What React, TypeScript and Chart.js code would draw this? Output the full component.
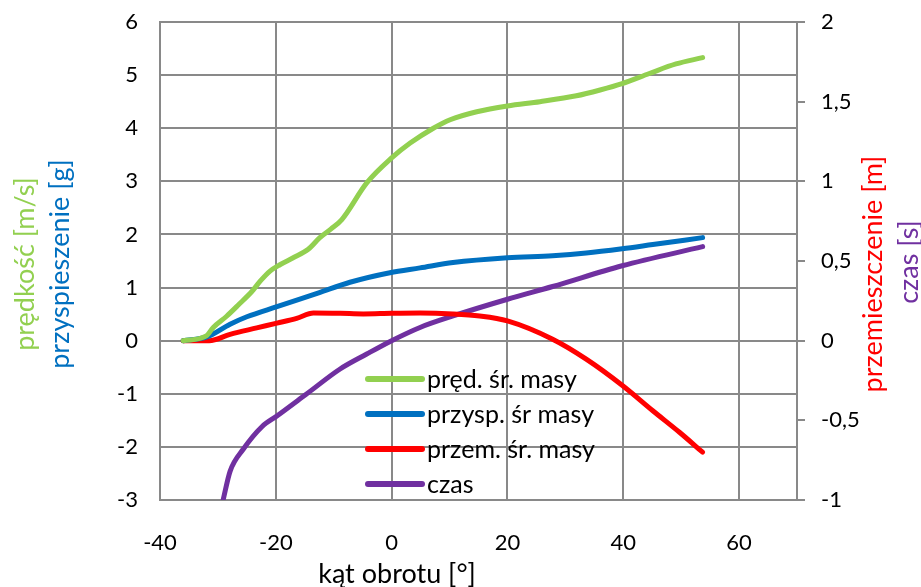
import React, { useEffect, useRef } from 'react';
import { Chart, registerables } from 'chart.js';

Chart.register(...registerables);

// ---- data ----
const velAngle = [-36, -32, -30.8, -28.5, -26.4, -24.1, -22.7, -21, -19.3, -17, -14.4, -12.4, -10.5, -8.6, -4.3, 0, 3.2, 7.2, 10.1, 14.7, 20, 25.6, 31.9, 36, 39.8, 44.5, 49.1, 53.7];
const velValue = [0, 0.09, 0.25, 0.46, 0.68, 0.93, 1.12, 1.31, 1.43, 1.56, 1.72, 1.94, 2.1, 2.28, 2.97, 3.44, 3.72, 4.0, 4.16, 4.31, 4.42, 4.5, 4.61, 4.72, 4.84, 5.03, 5.21, 5.33];

const accAngle = [-36, -31.9, -27.9, -25, -19.8, -12.6, -7.2, -0.3, 4.9, 10.6, 20, 27.8, 33.6, 39.8, 45.1, 53.7];
const accValue = [0, 0.07, 0.31, 0.45, 0.64, 0.9, 1.1, 1.28, 1.37, 1.47, 1.56, 1.6, 1.65, 1.73, 1.81, 1.94];

const dispAngle = [-36, -31.5, -27.9, -23.3, -19.8, -16.4, -13.5, -8.9, -4.9, 0, 4.9, 10.6, 15.2, 20, 27.8, 33.6, 39.8, 45.1, 49.7, 53.7];
const dispValue = [0, 0, 0.04, 0.08, 0.11, 0.14, 0.174, 0.172, 0.168, 0.172, 0.174, 0.168, 0.155, 0.124, 0.009, -0.116, -0.28, -0.44, -0.575, -0.7];

const timeAngle = [-29.1, -27.9, -25.6, -22.4, -19.7, -14.7, -8.9, -4.3, 0, 4.9, 10.6, 20, 27.8, 39.8, 53.7];
const timeValue = [-1.0, -0.82, -0.68, -0.54, -0.47, -0.335, -0.178, -0.084, 0, 0.083, 0.155, 0.26, 0.34, 0.47, 0.59];

const seriesLabels = ['pręd. śr. masy', 'przysp. śr masy', 'przem. śr. masy', 'czas'];
const seriesColors = ['#92D050', '#0070C0', '#FF0000', '#7030A0'];

const xTickValues = [-40, -20, 0, 20, 40, 60];
const xRange = [-40, 70];
const yLeftRange = [-3, 6];
const yRightRange = [-1, 2];

const leftTitles = ['prędkość [m/s]', 'przyspieszenie [g]'];
const rightTitles = ['przemieszczenie [m]', 'czas [s]'];
const xTitle = 'kąt obrotu [°]';

const FONT = 'Lato';
const TICK_SIZE = 22;
const TITLE_SIZE = 27;
const LEGEND_SIZE = 25;
const GRID = '#898989';

const zip = (xs: number[], ys: number[]) => xs.map((x, i) => ({ x, y: ys[i] }));

const decorPlugin = {
  id: 'decor',
  afterDraw(chart: any) {
    const ctx = chart.ctx as CanvasRenderingContext2D;
    const a = chart.chartArea;
    ctx.save();
    ctx.font = `${TITLE_SIZE}px ${FONT}`;
    ctx.textAlign = 'center';
    ctx.textBaseline = 'middle';
    const drawV = (text: string, color: string, x: number, y: number) => {
      ctx.save();
      ctx.translate(x, y);
      ctx.rotate(-Math.PI / 2);
      ctx.fillStyle = color;
      ctx.fillText(text, 0, 0);
      ctx.restore();
    };
    const midY = (a.top + a.bottom) / 2;
    drawV(leftTitles[0], seriesColors[0], a.left - 135, midY + 3);
    drawV(leftTitles[1], seriesColors[1], a.left - 100, midY + 3);
    drawV(rightTitles[0], seriesColors[2], a.right + 76, midY + 13);
    drawV(rightTitles[1], seriesColors[3], a.right + 112, midY + 1);
    ctx.fillStyle = '#000';
    ctx.fillText(xTitle, a.left + 237, a.bottom + 74);

    // legend
    ctx.font = `${LEGEND_SIZE}px ${FONT}`;
    const lx0 = a.left + 208;
    const lx1 = a.left + 262;
    const ly0 = a.top + 357;
    const step = 35;
    ctx.textAlign = 'left';
    chart.data.datasets.forEach((ds: any, i: number) => {
      const y = ly0 + i * step;
      ctx.strokeStyle = ds.borderColor;
      ctx.lineWidth = 6;
      ctx.lineCap = 'round';
      ctx.beginPath();
      ctx.moveTo(lx0, y);
      ctx.lineTo(lx1, y);
      ctx.stroke();
      ctx.fillStyle = '#000';
      ctx.fillText(ds.label, lx1 + 5, y + 1);
    });
    ctx.restore();
  },
};

export default function App() {
  const ref = useRef<HTMLCanvasElement | null>(null);
  useEffect(() => {
    if (!ref.current) return;
    Chart.defaults.font.family = FONT;
    const mk = (i: number, xs: number[], ys: number[], axis: string) => ({
      label: seriesLabels[i],
      data: zip(xs, ys),
      borderColor: seriesColors[i],
      backgroundColor: seriesColors[i],
      borderWidth: 5,
      borderCapStyle: 'round',
      borderJoinStyle: 'round',
      pointRadius: 0,
      cubicInterpolationMode: 'monotone',
      fill: false,
      yAxisID: axis,
    });
    const tickFont = { family: FONT, size: TICK_SIZE };
    const fitY = (w: number) => (s: any) => {
      s.width = w;
      s.paddingTop = 0;
      s.paddingBottom = 0;
    };
    const chart = new Chart(ref.current, {
      type: 'line',
      data: {
        datasets: [
          mk(0, velAngle, velValue, 'y'),
          mk(1, accAngle, accValue, 'y'),
          mk(2, dispAngle, dispValue, 'y1'),
          mk(3, timeAngle, timeValue, 'y1'),
        ] as any,
      },
      options: {
        animation: false,
        responsive: false,
        maintainAspectRatio: false,
        layout: { padding: { top: 22, left: 0, right: 0, bottom: 0 } },
        plugins: { legend: { display: false }, tooltip: { enabled: false } },
        scales: {
          x: {
            type: 'linear',
            min: xRange[0],
            max: xRange[1],
            afterBuildTicks: (s: any) => {
              s.ticks = xTickValues.map((v) => ({ value: v }));
            },
            ticks: {
              autoSkip: false,
              maxRotation: 0,
              padding: 30,
              color: '#000',
              font: tickFont,
              callback: (v: any) => String(v),
            },
            grid: { color: GRID, lineWidth: 2, drawTicks: false },
            border: { color: GRID, width: 2 },
            afterFit: (s: any) => {
              s.height = 87;
              s.paddingLeft = 0;
              s.paddingRight = 0;
            },
          },
          y: {
            type: 'linear',
            position: 'left',
            min: yLeftRange[0],
            max: yLeftRange[1],
            ticks: { stepSize: 1, padding: 22, color: '#000', font: tickFont, callback: (v: any) => String(v) },
            grid: { color: GRID, lineWidth: 2, drawTicks: false },
            border: { color: GRID, width: 2 },
            afterFit: fitY(160),
          },
          y1: {
            type: 'linear',
            position: 'right',
            min: yRightRange[0],
            max: yRightRange[1],
            ticks: {
              stepSize: 0.5,
              padding: 16,
              color: '#000',
              font: tickFont,
              callback: (v: any) => String(v).replace('.', ','),
            },
            grid: { drawOnChartArea: false, drawTicks: true, tickLength: 8, color: GRID, lineWidth: 2 },
            border: { color: GRID, width: 2 },
            afterFit: fitY(124),
          },
        },
      } as any,
      plugins: [decorPlugin],
    });
    return () => chart.destroy();
  }, []);
  return (
    <canvas
      ref={ref}
      width={921}
      height={587}
      style={{ position: 'fixed', left: 0, top: 0, width: 921, height: 587, display: 'block', background: '#fff' }}
    />
  );
}
